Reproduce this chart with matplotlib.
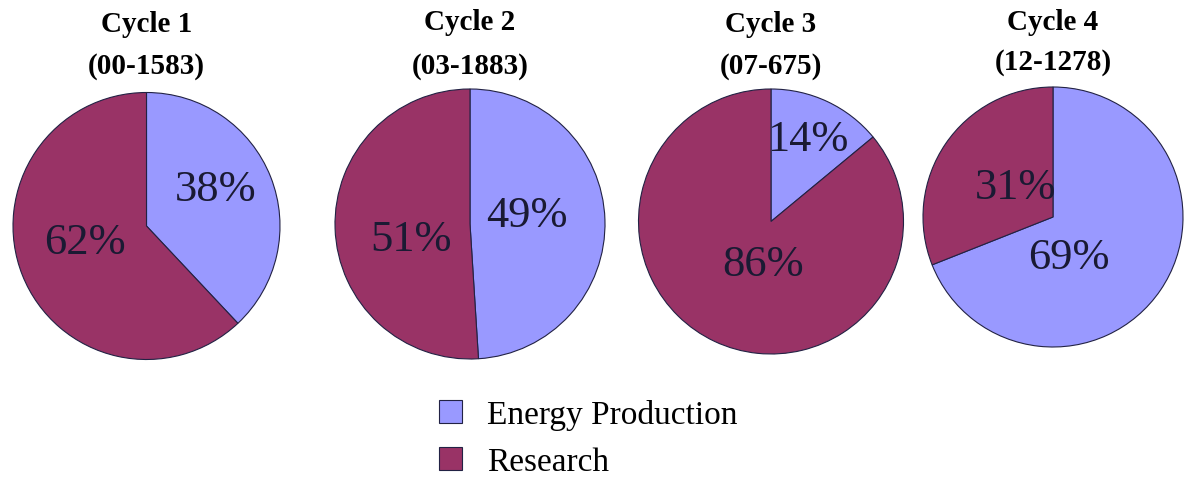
import matplotlib
matplotlib.use("Agg")
import matplotlib.pyplot as plt
import numpy as np

# Data
cycles = ["Cycle 1", "Cycle 2", "Cycle 3", "Cycle 4"]
cycle_codes = ["(00-1583)", "(03-1883)", "(07-675)", "(12-1278)"]
categories = ["Energy Production", "Research"]
energy_pct = [38, 49, 14, 69]
research_pct = [62, 51, 86, 31]

colors = ["#9999FF", "#993366"]

# Layout (pixels on a 1185x481 canvas): pie centers and radii
W, H = 1185, 481
centers = [(146.5, 227), (470, 225), (771, 222.5), (1053, 218)]
radii = [133.5, 135, 132.5, 130]
# label offsets relative to center, in units of radius: (energy), (research)
label_offsets = [
    [(0.52, 0.28), (-0.46, -0.12)],
    [(0.42, 0.07), (-0.44, -0.11)],
    [(0.28, 0.62), (-0.06, -0.32)],
    [(0.12, -0.31), (-0.29, 0.23)],
]
title_y = [24, 22, 24, 22]
code_y = [67, 66, 67, 63]

plt.rcParams["font.family"] = ["Liberation Serif", "DejaVu Serif"]
fig = plt.figure(figsize=(W / 100, H / 100), dpi=100)
fig.patch.set_facecolor("white")

wedges_first = None
for i in range(4):
    cx, cy = centers[i]
    r = radii[i]
    ax = fig.add_axes([(cx - r) / W, (H - cy - r) / H, 2 * r / W, 2 * r / H])
    vals = [energy_pct[i], research_pct[i]]
    wedges, _ = ax.pie(vals, colors=colors, startangle=90, counterclock=False,
                       radius=1.0,
                       wedgeprops=dict(edgecolor="#222244", linewidth=0.8))
    if wedges_first is None:
        wedges_first = wedges
    ax.set_xlim(-1, 1)
    ax.set_ylim(-1, 1)
    ax.set_aspect("equal")
    for j, v in enumerate(vals):
        dx, dy = label_offsets[i][j]
        ax.text(dx, dy, f"{v}%", ha="center", va="center", fontsize=32,
                color="#1a1a33")
    fig.text(cx / W, 1 - title_y[i] / H, cycles[i],
             ha="center", va="center", fontsize=21, fontweight="bold")
    fig.text(cx / W, 1 - code_y[i] / H, cycle_codes[i],
             ha="center", va="center", fontsize=21, fontweight="bold")

leg = fig.legend(wedges_first, categories, loc="upper left",
                 bbox_to_anchor=(409 / W, 1 - 370 / H), frameon=False,
                 fontsize=24, handlelength=0.7, handleheight=0.7,
                 handletextpad=0.75, labelspacing=0.5)

fig.savefig("out.png", dpi=100)
